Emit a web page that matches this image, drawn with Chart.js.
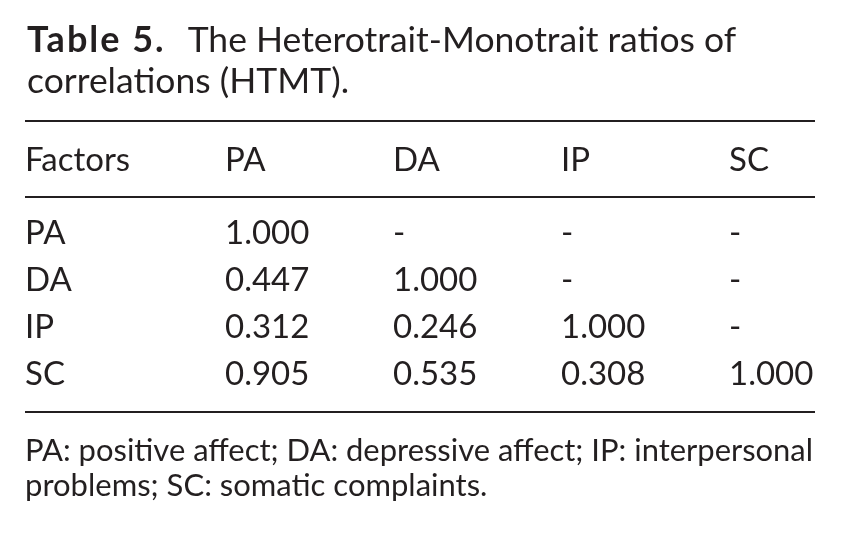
<!DOCTYPE html>
<html>
<head>
<meta charset="utf-8">
<title>HTMT table</title>
<script src="https://cdn.jsdelivr.net/npm/chart.js@4.4.1/dist/chart.umd.min.js"></script>
<style>
  html, body { margin: 0; padding: 0; background: #fff; }
  .wrap { width: 841px; height: 540px; }
</style>
</head>
<body>
<div class="wrap"><canvas class="htmt-table"></canvas></div>
<script>
// table content
const factors = ["PA", "DA", "IP", "SC"];
const columns = ["PA", "DA", "IP", "SC"];
const paValues = [1.0, 0.447, 0.312, 0.905];
const daValues = [null, 1.0, 0.246, 0.535];
const ipValues = [null, null, 1.0, 0.308];
const scValues = [null, null, null, 1.0];
const cornerLabel = "Factors";
const titleBold = "Table 5.";
const titleLines = ["The Heterotrait-Monotrait ratios of", "correlations (HTMT)."];
const footnoteLines = [
  "PA: positive affect; DA: depressive affect; IP: interpersonal",
  "problems; SC: somatic complaints.",
];

const ink = "#231f20";
const family = "Lato, 'Open Sans', sans-serif";
const bodySize = 33;

const columnValues = [paValues, daValues, ipValues, scValues];

// draws cell text, rules, corner header and the title
const tableText = {
  id: "tableText",
  afterDraw(chart) {
    const { ctx } = chart;
    const x = chart.scales.x;
    const y = chart.scales.y;
    ctx.save();
    ctx.fillStyle = ink;
    ctx.strokeStyle = ink;

    // cells
    ctx.font = `${bodySize}px ${family}`;
    ctx.textAlign = "left";
    ctx.textBaseline = "middle";
    chart.data.datasets.forEach((ds, i) => {
      chart.getDatasetMeta(i).data.forEach((pt, j) => {
        const v = columnValues[i][j];
        ctx.fillText(v == null ? "-" : v.toFixed(3), pt.x, pt.y);
      });
    });

    // "Factors" on the header row, same line as the x tick labels
    const lh = Chart.helpers.toFont(x.options.ticks.font).lineHeight;
    const headY = x.bottom - x.options.ticks.padding - lh / 2;
    ctx.fillText(cornerLabel, y.left, headY);

    // horizontal rules
    ctx.lineWidth = 2;
    [x.top, x.bottom, y.bottom].forEach((ry) => {
      ctx.beginPath();
      ctx.moveTo(y.left, ry);
      ctx.lineTo(x.right + 2, ry);
      ctx.stroke();
    });

    // title
    ctx.textBaseline = "alphabetic";
    ctx.font = `bold 36px ${family}`;
    ctx.letterSpacing = "2px";
    ctx.fillText(titleBold, 27, 52);
    const boldW = ctx.measureText(titleBold).width;
    ctx.letterSpacing = "0px";
    ctx.font = `35.5px ${family}`;
    ctx.fillText(titleLines[0], 27 + boldW + 22, 52);
    ctx.fillText(titleLines[1], 27, 93);
    ctx.restore();
  },
};

const config = {
  type: "scatter",
  data: {
    labels: columns,
    datasets: columns.map((col, i) => ({
      label: col,
      data: factors.map((f, j) => ({ x: col, y: j })),
      pointRadius: 0,
      pointHoverRadius: 0,
    })),
  },
  options: {
    responsive: true,
    maintainAspectRatio: false,
    animation: false,
    events: [],
    layout: {
      padding: { top: 121, left: 25, right: 28, bottom: 36.5 },
    },
    scales: {
      x: {
        type: "category",
        labels: columns,
        position: "top",
        offset: true,
        grid: { display: false, drawTicks: false },
        border: { display: false },
        ticks: {
          align: "start",
          padding: 17,
          color: ink,
          font: { family: family, size: bodySize },
        },
        afterFit(scale) {
          scale.height = 76;
        },
      },
      y: {
        type: "linear",
        reverse: true,
        min: -0.786,
        max: 3.804,
        grid: { display: false, drawTicks: false },
        border: { display: false },
        afterBuildTicks(scale) {
          scale.ticks = factors.map((f, j) => ({ value: j }));
        },
        afterFit(scale) {
          scale.width = 116;
        },
        ticks: {
          crossAlign: "far",
          color: ink,
          font: { family: family, size: bodySize },
          callback: (value) => factors[value],
        },
      },
    },
    plugins: {
      legend: { display: false },
      tooltip: { enabled: false },
      subtitle: {
        display: true,
        position: "bottom",
        align: "start",
        text: footnoteLines,
        color: ink,
        font: { family: family, size: 31, weight: "normal", lineHeight: 35 / 31 },
        padding: { top: 21.5, bottom: 0 },
      },
    },
  },
  plugins: [tableText],
};

const tableChart = new Chart(document.querySelector(".htmt-table"), config);
</script>
</body>
</html>
